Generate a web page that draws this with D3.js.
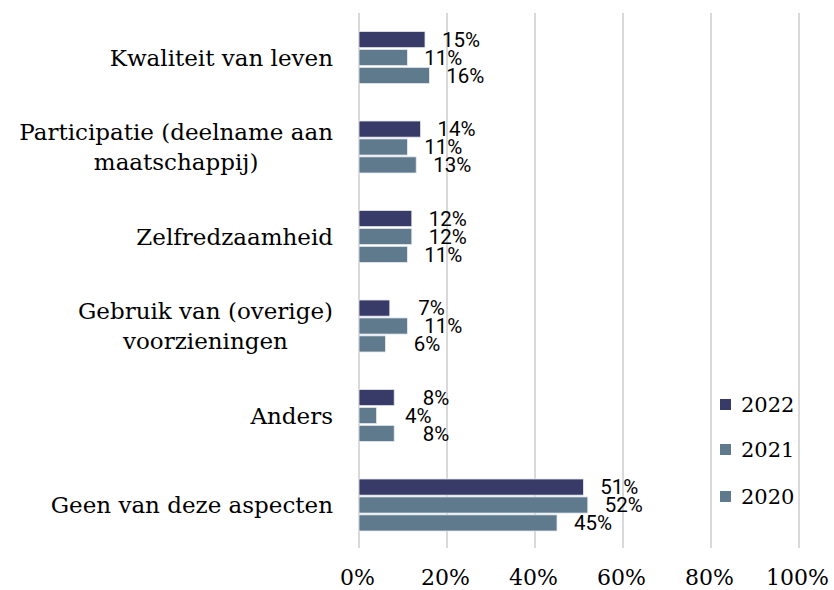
<!DOCTYPE html>
<html>
<head>
<meta charset="utf-8">
<script src="https://cdn.jsdelivr.net/npm/d3@7"></script>
<style>
  body { margin: 0; background: #fff; }
  svg { display: block; }
</style>
</head>
<body>
<svg id="chart" width="834" height="590"></svg>
<script>
// categories, top to bottom (lines split for wrapping)
var categories = [
  ["Kwaliteit van leven"],
  ["Participatie (deelname aan", "maatschappij)"],
  ["Zelfredzaamheid"],
  ["Gebruik van (overige)", "voorzieningen"],
  ["Anders"],
  ["Geen van deze aspecten"]
];
var series = ["2022", "2021", "2020"];
var values2022 = [15, 14, 12, 7, 8, 51];
var values2021 = [11, 11, 12, 11, 4, 52];
var values2020 = [16, 13, 11, 6, 8, 45];
var xTicks = [0, 20, 40, 60, 80, 100];
var colors = { "2022": "#383b68", "2021": "#5e7a8c", "2020": "#5e7a8c" };

var valuesBySeries = { "2022": values2022, "2021": values2021, "2020": values2020 };
var serif = "'DejaVu Serif', serif";
var sans = "Roboto, 'Liberation Sans', sans-serif";

var svg = d3.select("#chart");

var x = d3.scaleLinear().domain([0, 100]).range([359, 799]);
var y = d3.scaleBand().domain(d3.range(categories.length)).range([12.75, 549.75]);
var inner = d3.scaleBand().domain(series).range([-26, 26]).paddingInner(0.1);

// gridlines
svg.append("g").selectAll("line")
  .data(xTicks).enter().append("line")
  .attr("x1", function(d) { return x(d); })
  .attr("x2", function(d) { return x(d); })
  .attr("y1", 13).attr("y2", 548)
  .attr("stroke", "#d9d9d9").attr("stroke-width", 2);

// x axis labels
var xAxis = d3.axisBottom(x).tickValues(xTicks)
  .tickFormat(function(d) { return d + "%"; }).tickSize(0).tickPadding(0);
var gx = svg.append("g").attr("transform", "translate(-2,569)").call(xAxis);
gx.select(".domain").remove();
gx.selectAll("text").attr("font-family", serif).attr("font-size", 22).attr("fill", "#000");

// groups
var groups = svg.append("g").selectAll("g")
  .data(categories).enter().append("g")
  .attr("transform", function(d, i) { return "translate(0," + (y(i) + y.bandwidth() / 2) + ")"; });

groups.each(function(cat, i) {
  var g = d3.select(this);
  series.forEach(function(s) {
    var v = valuesBySeries[s][i];
    g.append("rect")
      .attr("x", x(0))
      .attr("y", inner(s))
      .attr("width", x(v) - x(0))
      .attr("height", inner.bandwidth())
      .attr("fill", colors[s])
      .attr("stroke", "#e6e9ee").attr("stroke-width", 0.8);
    g.append("text")
      .attr("x", x(v) + 55)
      .attr("y", inner(s) + inner.bandwidth() / 2)
      .attr("dy", "0.36em")
      .attr("text-anchor", "end")
      .attr("font-family", sans).attr("font-size", 20.5).attr("fill", "#000")
      .text(v + "%");
  });

  // category label, lines centred on each other, block right-aligned
  var lab = g.append("text")
    .attr("font-family", serif).attr("font-size", 23).attr("fill", "#000")
    .attr("text-anchor", "middle");
  var lh = 30;
  cat.forEach(function(line, k) {
    lab.append("tspan")
      .attr("x", 0)
      .attr("y", (k - (cat.length - 1) / 2) * lh)
      .attr("dy", "0.35em")
      .text(line);
  });
  var maxW = 0;
  lab.selectAll("tspan").each(function() { maxW = Math.max(maxW, this.getComputedTextLength()); });
  lab.selectAll("tspan").attr("x", 333 - maxW / 2);
});

// legend
var legendY = [405, 450, 497];
var legend = svg.append("g").selectAll("g")
  .data(series).enter().append("g")
  .attr("transform", function(d, i) { return "translate(720," + legendY[i] + ")"; });
legend.append("rect")
  .attr("x", 0).attr("y", -6).attr("width", 11).attr("height", 11)
  .attr("fill", function(d) { return colors[d]; });
legend.append("text")
  .attr("x", 21).attr("dy", "0.35em")
  .attr("font-family", serif).attr("font-size", 21).attr("fill", "#000")
  .text(function(d) { return d; });
</script>
</body>
</html>
